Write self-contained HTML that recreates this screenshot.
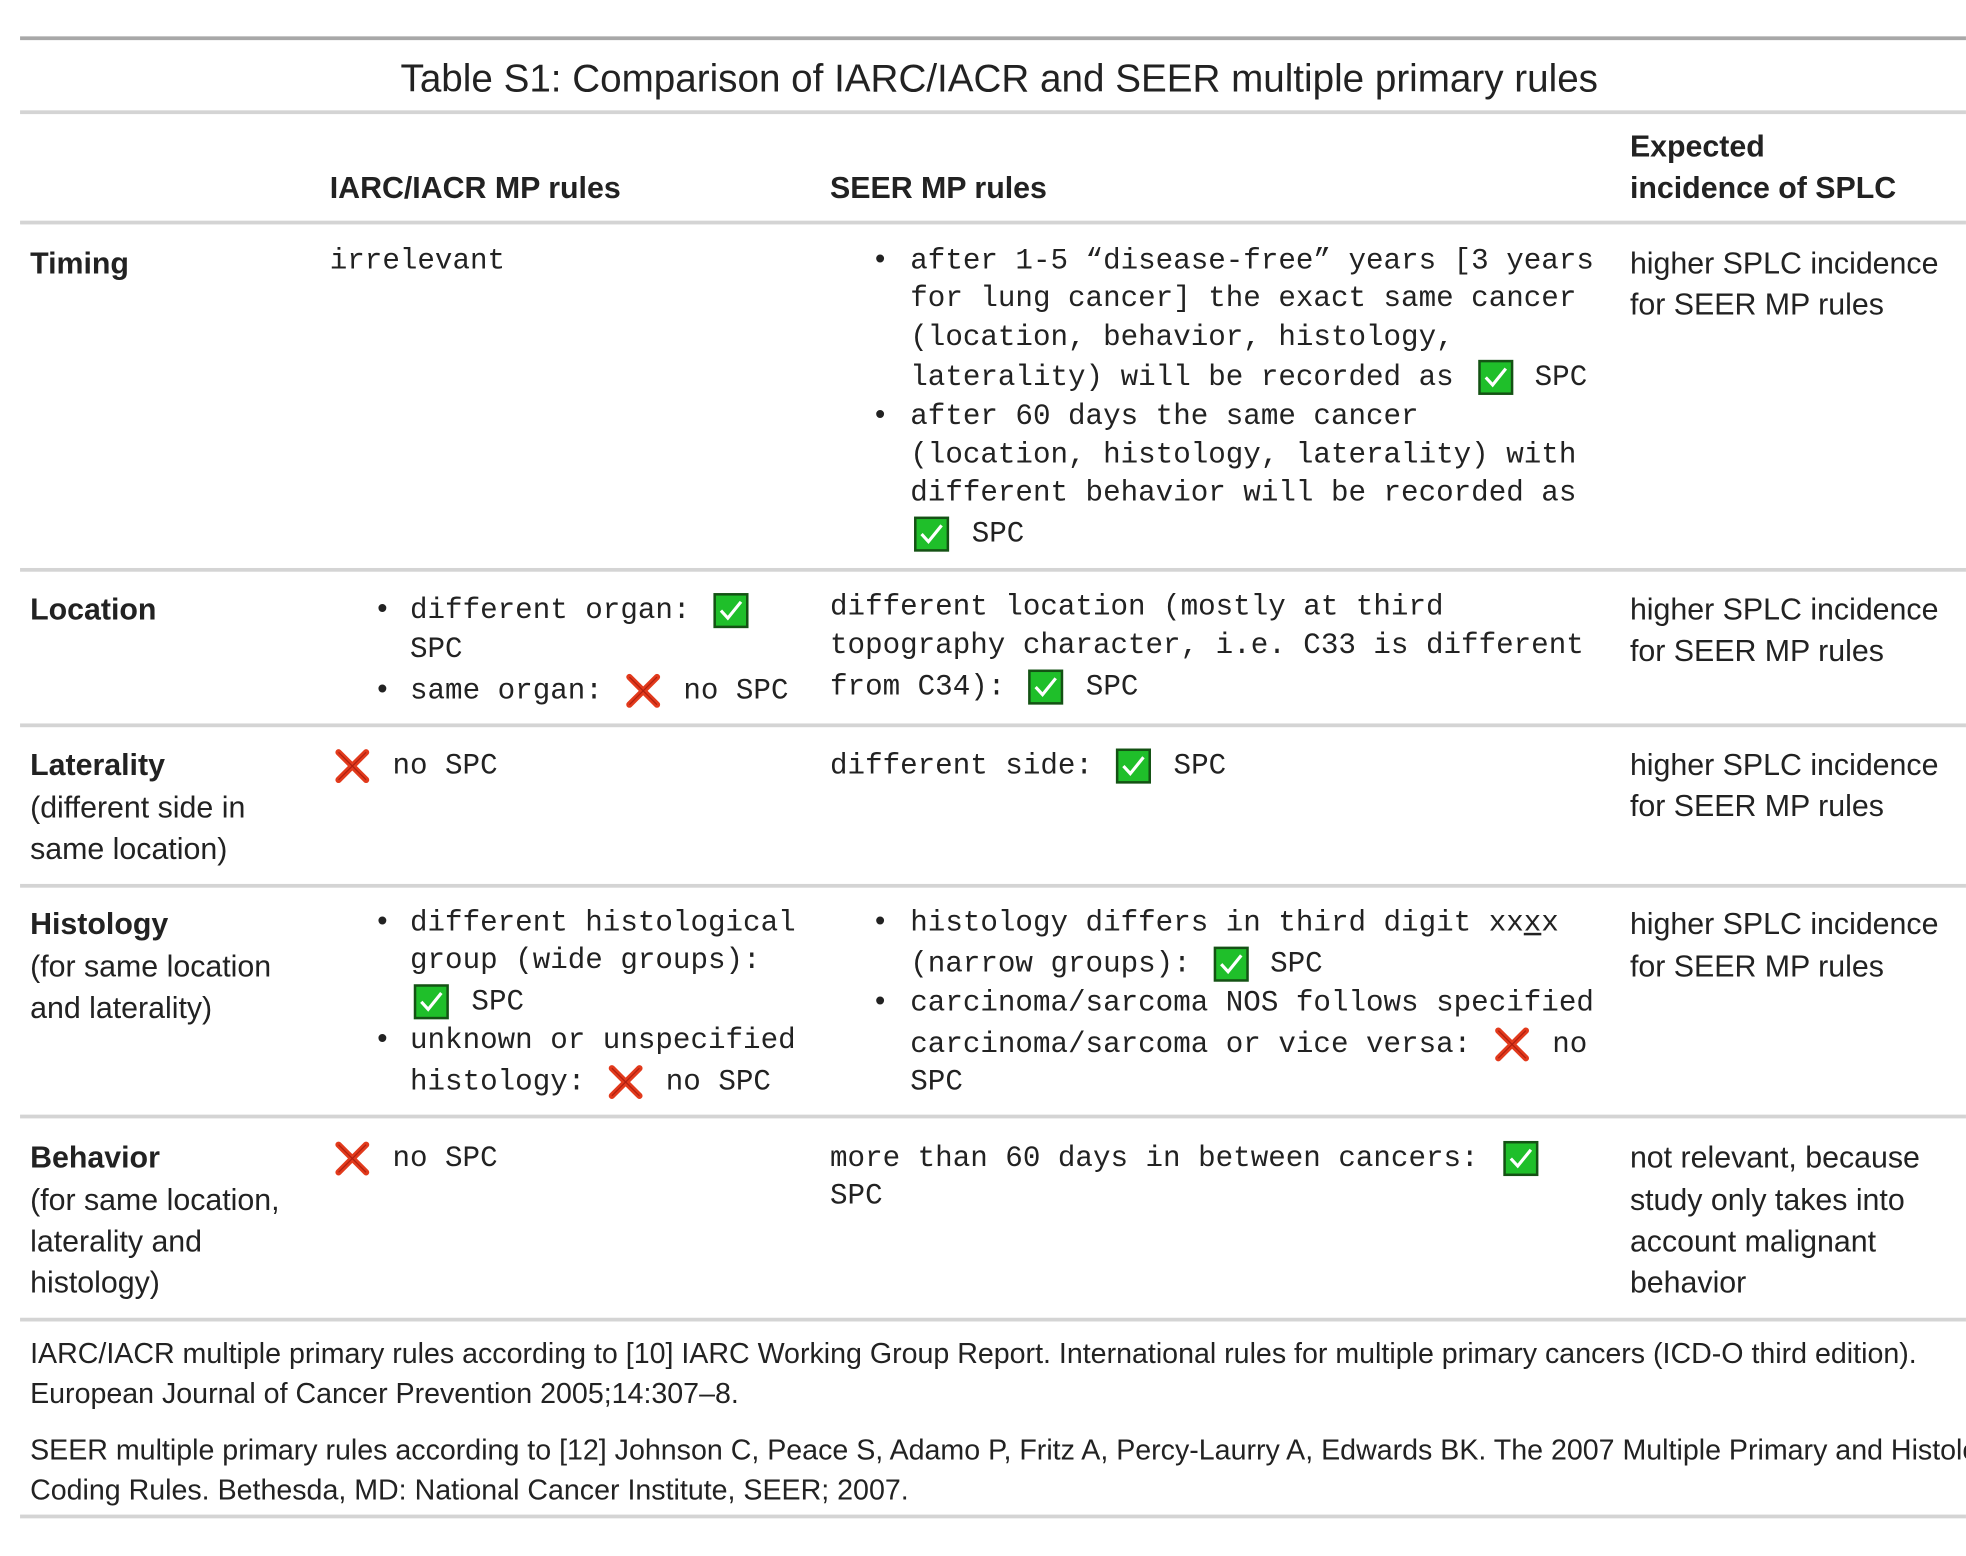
<!DOCTYPE html>
<html><head><meta charset="utf-8"><style>
html,body{margin:0;padding:0;background:#fff;}
body{width:1966px;height:1556px;overflow:hidden;position:relative;}
#w{position:absolute;left:0;top:0;width:1568px;height:1241px;transform:scale(1.2538);transform-origin:0 0;}
.t{position:absolute;white-space:nowrap;line-height:34px;height:34px;color:#222;}
.s{font-family:"Liberation Sans",sans-serif;font-size:24.2px;}
.b{font-weight:bold;}
.m{font-family:"Liberation Mono",monospace;font-size:23.3px;}
.f{font-family:"Liberation Sans",sans-serif;font-size:22.8px;}
.hl{position:absolute;left:16px;right:0;height:3px;background:#d4d4d4;}
</style></head><body><div id="w">
<div class="hl" style="top:29px;background:#a8a8a8;"></div>
<div class="t s" style="left:0;width:1594px;text-align:center;top:46px;font-size:30.8px;">Table S1: Comparison of IARC/IACR and SEER multiple primary rules</div>
<div class="hl" style="top:88px;"></div>
<div class="t s b" style="left:263px;top:134px;">IARC/IACR MP rules</div>
<div class="t s b" style="left:662px;top:134px;">SEER MP rules</div>
<div class="t s b" style="left:1300px;top:101px;">Expected</div>
<div class="t s b" style="left:1300px;top:134px;">incidence of SPLC</div>
<div class="hl" style="top:176px;"></div>

<!-- Timing -->
<div class="t s b" style="left:24px;top:194px;">Timing</div>
<div class="t m" style="left:263px;top:191px;">irrelevant</div>
<div class="t m" style="left:695px;top:191px;">•</div>
<div class="t m" style="left:726px;top:191px;">after 1-5 “disease-free” years [3 years</div>
<div class="t m" style="left:726px;top:221px;">for lung cancer] the exact same cancer</div>
<div class="t m" style="left:726px;top:252px;">(location, behavior, histology,</div>
<div class="t m" style="left:726px;top:284px;">laterality) will be recorded as</div>
<div class="t m" style="left:1224px;top:284px;">SPC</div>
<div class="t m" style="left:695px;top:315px;">•</div>
<div class="t m" style="left:726px;top:315px;">after 60 days the same cancer</div>
<div class="t m" style="left:726px;top:346px;">(location, histology, laterality) with</div>
<div class="t m" style="left:726px;top:376px;">different behavior will be recorded as</div>
<div class="t m" style="left:775px;top:409px;">SPC</div>
<div class="t s" style="left:1300px;top:194px;">higher SPLC incidence</div>
<div class="t s" style="left:1300px;top:227px;">for SEER MP rules</div>
<div class="hl" style="top:453px;"></div>

<!-- Location -->
<div class="t s b" style="left:24px;top:470px;">Location</div>
<div class="t m" style="left:298px;top:470px;">•</div>
<div class="t m" style="left:327px;top:470px;">different organ:</div>
<div class="t m" style="left:327px;top:501px;">SPC</div>
<div class="t m" style="left:298px;top:534px;">•</div>
<div class="t m" style="left:327px;top:534px;">same organ:</div>
<div class="t m" style="left:545px;top:534px;">no SPC</div>
<div class="t m" style="left:662px;top:467px;">different location (mostly at third</div>
<div class="t m" style="left:662px;top:498px;">topography character, i.e. C33 is different</div>
<div class="t m" style="left:662px;top:531px;">from C34):</div>
<div class="t m" style="left:866px;top:531px;">SPC</div>
<div class="t s" style="left:1300px;top:470px;">higher SPLC incidence</div>
<div class="t s" style="left:1300px;top:503px;">for SEER MP rules</div>
<div class="hl" style="top:577px;"></div>

<!-- Laterality -->
<div class="t s b" style="left:24px;top:594px;">Laterality</div>
<div class="t s" style="left:24px;top:628px;">(different side in</div>
<div class="t s" style="left:24px;top:661px;">same location)</div>
<div class="t m" style="left:313px;top:594px;">no SPC</div>
<div class="t m" style="left:662px;top:594px;">different side:</div>
<div class="t m" style="left:936px;top:594px;">SPC</div>
<div class="t s" style="left:1300px;top:594px;">higher SPLC incidence</div>
<div class="t s" style="left:1300px;top:627px;">for SEER MP rules</div>
<div class="hl" style="top:705px;"></div>

<!-- Histology -->
<div class="t s b" style="left:24px;top:721px;">Histology</div>
<div class="t s" style="left:24px;top:755px;">(for same location</div>
<div class="t s" style="left:24px;top:788px;">and laterality)</div>
<div class="t m" style="left:298px;top:719px;">•</div>
<div class="t m" style="left:327px;top:719px;">different histological</div>
<div class="t m" style="left:327px;top:749px;">group (wide groups):</div>
<div class="t m" style="left:376px;top:782px;">SPC</div>
<div class="t m" style="left:298px;top:813px;">•</div>
<div class="t m" style="left:327px;top:813px;">unknown or unspecified</div>
<div class="t m" style="left:327px;top:846px;">histology:</div>
<div class="t m" style="left:531px;top:846px;">no SPC</div>
<div class="t m" style="left:695px;top:719px;">•</div>
<div class="t m" style="left:726px;top:719px;">histology differs in third digit xx<u>x</u>x</div>
<div class="t m" style="left:726px;top:752px;">(narrow groups):</div>
<div class="t m" style="left:1013px;top:752px;">SPC</div>
<div class="t m" style="left:695px;top:783px;">•</div>
<div class="t m" style="left:726px;top:783px;">carcinoma/sarcoma NOS follows specified</div>
<div class="t m" style="left:726px;top:816px;">carcinoma/sarcoma or vice versa:</div>
<div class="t m" style="left:1238px;top:816px;">no</div>
<div class="t m" style="left:726px;top:846px;">SPC</div>
<div class="t s" style="left:1300px;top:721px;">higher SPLC incidence</div>
<div class="t s" style="left:1300px;top:755px;">for SEER MP rules</div>
<div class="hl" style="top:889px;"></div>

<!-- Behavior -->
<div class="t s b" style="left:24px;top:907px;">Behavior</div>
<div class="t s" style="left:24px;top:941px;">(for same location,</div>
<div class="t s" style="left:24px;top:974px;">laterality and</div>
<div class="t s" style="left:24px;top:1007px;">histology)</div>
<div class="t m" style="left:313px;top:907px;">no SPC</div>
<div class="t m" style="left:662px;top:907px;">more than 60 days in between cancers:</div>
<div class="t m" style="left:662px;top:937px;">SPC</div>
<div class="t s" style="left:1300px;top:907px;">not relevant, because</div>
<div class="t s" style="left:1300px;top:941px;">study only takes into</div>
<div class="t s" style="left:1300px;top:974px;">account malignant</div>
<div class="t s" style="left:1300px;top:1007px;">behavior</div>
<div class="hl" style="top:1051px;"></div>

<div class="t f" style="left:24px;top:1062px;">IARC/IACR multiple primary rules according to [10] IARC Working Group Report. International rules for multiple primary cancers (ICD-O third edition).</div>
<div class="t f" style="left:24px;top:1094px;">European Journal of Cancer Prevention 2005;14:307–8.</div>
<div class="t f" style="left:24px;top:1139px;">SEER multiple primary rules according to [12] Johnson C, Peace S, Adamo P, Fritz A, Percy-Laurry A, Edwards BK. The 2007 Multiple Primary and Histology</div>
<div class="t f" style="left:24px;top:1171px;">Coding Rules. Bethesda, MD: National Cancer Institute, SEER; 2007.</div>
<div class="hl" style="top:1208px;"></div>

<svg width="1568" height="1241" style="position:absolute;left:0;top:0;">
<defs>
<g id="ck"><rect x="1" y="1" width="26" height="26" fill="#1fbf2a" stroke="#145214" stroke-width="2"/><path d="M6 14 L11.5 20 L22 7" fill="none" stroke="#fff" stroke-width="2.5"/></g>
<g id="xx"><path d="M3 3 L25 25 M25 3 L3 25" stroke="#e23a1c" stroke-width="5" stroke-linecap="round"/><path d="M3 3 L25 25 M25 3 L3 25" stroke="#b02010" stroke-width="1" fill="none"/></g>
</defs>
<use href="#ck" x="1179" y="287"/>
<use href="#ck" x="729" y="412"/>
<use href="#ck" x="569" y="473"/>
<use href="#ck" x="820" y="534"/>
<use href="#ck" x="890" y="597"/>
<use href="#ck" x="330" y="785"/>
<use href="#ck" x="968" y="755"/>
<use href="#ck" x="1199" y="910"/>
<use href="#xx" x="499" y="537"/>
<use href="#xx" x="267" y="597"/>
<use href="#xx" x="485" y="849"/>
<use href="#xx" x="1192" y="819"/>
<use href="#xx" x="267" y="910"/>
</svg>
</div></body></html>
